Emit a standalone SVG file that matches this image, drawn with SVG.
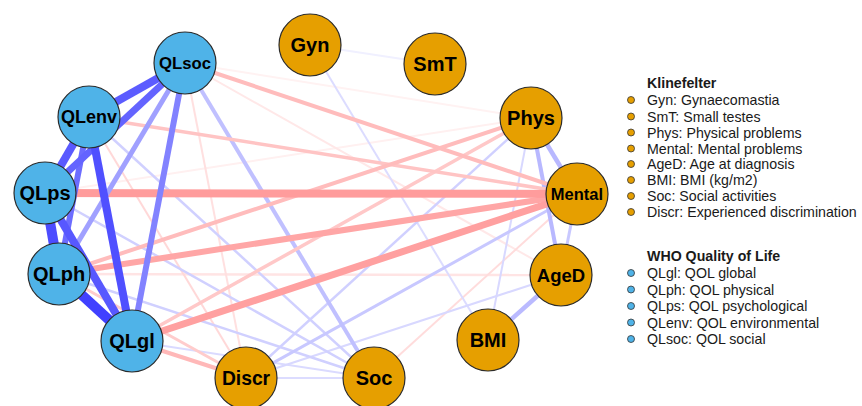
<svg xmlns="http://www.w3.org/2000/svg" width="862" height="406" viewBox="0 0 862 406">
<defs>
<style>
.e{fill:none;stroke-linecap:butt}
.n circle{stroke:#2b2b2b;stroke-width:1.2}
.o{fill:#E69F00}
.b{fill:#4FB3E8}
.n text{font-family:"Liberation Sans",Arial,sans-serif;font-weight:bold;text-anchor:middle;dominant-baseline:central;fill:#000}
.lg text{font-family:"Liberation Sans",Arial,sans-serif;font-size:14.2px;fill:#1a1a1a}
.lg .t{font-weight:bold}
.lg circle{stroke:#333;stroke-width:0.8}
</style>
</defs>
<rect width="862" height="406" fill="#fff"/>
<g id="connectors" class="e">
<line x1="310" y1="45" x2="435" y2="64" stroke="#f0f0ff" stroke-width="2"/>
<line x1="185" y1="63" x2="531" y2="118" stroke="#fff2f2" stroke-width="2"/>
<line x1="45" y1="193" x2="531" y2="118" stroke="#fff0f0" stroke-width="2"/>
<line x1="185" y1="63" x2="561" y2="275" stroke="#ffe8e8" stroke-width="2"/>
<line x1="59" y1="274" x2="561" y2="275" stroke="#ffe4e4" stroke-width="2.5"/>
<line x1="374" y1="378" x2="577" y2="194" stroke="#ffdcdc" stroke-width="2"/>
<line x1="185" y1="63" x2="246" y2="378" stroke="#ffe0e0" stroke-width="2"/>
<line x1="89" y1="117" x2="246" y2="378" stroke="#ffd8d8" stroke-width="2"/>
<line x1="310" y1="45" x2="488" y2="340" stroke="#dcdcff" stroke-width="2"/>
<line x1="132" y1="341" x2="374" y2="378" stroke="#dadaff" stroke-width="2"/>
<line x1="246" y1="378" x2="561" y2="275" stroke="#d8d8ff" stroke-width="2"/>
<line x1="531" y1="118" x2="488" y2="340" stroke="#d8d8ff" stroke-width="2"/>
<line x1="246" y1="378" x2="374" y2="378" stroke="#dcdcff" stroke-width="2"/>
<line x1="89" y1="117" x2="374" y2="378" stroke="#d0d0ff" stroke-width="2.5"/>
<line x1="45" y1="193" x2="374" y2="378" stroke="#d0d0ff" stroke-width="2.5"/>
<line x1="59" y1="274" x2="374" y2="378" stroke="#d0d0ff" stroke-width="2.5"/>
<line x1="531" y1="118" x2="246" y2="378" stroke="#d0d0ff" stroke-width="2.5"/>
<line x1="577" y1="194" x2="246" y2="378" stroke="#c8c8ff" stroke-width="3"/>
<line x1="577" y1="194" x2="561" y2="275" stroke="#c8c8ff" stroke-width="3"/>
<line x1="185" y1="63" x2="374" y2="378" stroke="#c0c0ff" stroke-width="4"/>
<line x1="531" y1="118" x2="577" y2="194" stroke="#b8b8ff" stroke-width="4.5"/>
<line x1="531" y1="118" x2="561" y2="275" stroke="#b8b8ff" stroke-width="4"/>
<line x1="561" y1="275" x2="488" y2="340" stroke="#babaff" stroke-width="4.5"/>
<line x1="59" y1="274" x2="246" y2="378" stroke="#ffcccc" stroke-width="3"/>
<line x1="132" y1="341" x2="531" y2="118" stroke="#ffc8c8" stroke-width="3.5"/>
<line x1="89" y1="117" x2="577" y2="194" stroke="#ffc4c4" stroke-width="3.5"/>
<line x1="185" y1="63" x2="577" y2="194" stroke="#ffbcbc" stroke-width="4"/>
<line x1="59" y1="274" x2="531" y2="118" stroke="#ffbcbc" stroke-width="4"/>
<line x1="132" y1="341" x2="246" y2="378" stroke="#ffb8b8" stroke-width="4"/>
<line x1="59" y1="274" x2="577" y2="194" stroke="#ffa6a6" stroke-width="6"/>
<line x1="132" y1="341" x2="577" y2="194" stroke="#ffa0a0" stroke-width="7"/>
<line x1="45" y1="193" x2="577" y2="194" stroke="#ff9c9c" stroke-width="8"/>
<line x1="185" y1="63" x2="59" y2="274" stroke="#a0a0ff" stroke-width="5"/>
<line x1="185" y1="63" x2="132" y2="341" stroke="#8282ff" stroke-width="6"/>
<line x1="89" y1="117" x2="59" y2="274" stroke="#6c6cff" stroke-width="6"/>
<line x1="185" y1="63" x2="45" y2="193" stroke="#6464ff" stroke-width="7"/>
<line x1="185" y1="63" x2="89" y2="117" stroke="#5c5cff" stroke-width="8"/>
<line x1="89" y1="117" x2="45" y2="193" stroke="#5a5aff" stroke-width="8"/>
<line x1="45" y1="193" x2="132" y2="341" stroke="#5858ff" stroke-width="8"/>
<line x1="89" y1="117" x2="132" y2="341" stroke="#5050ff" stroke-width="8"/>
<line x1="45" y1="193" x2="59" y2="274" stroke="#4c4cff" stroke-width="10"/>
<line x1="59" y1="274" x2="132" y2="341" stroke="#4040ff" stroke-width="10"/>
</g>
<g id="Gyn" class="n"><circle class="o" cx="310" cy="45" r="31"/><text x="310" y="45" font-size="20">Gyn</text></g>
<g id="SmT" class="n"><circle class="o" cx="435" cy="64" r="31"/><text x="435" y="64" font-size="20">SmT</text></g>
<g id="Phys" class="n"><circle class="o" cx="531" cy="118" r="31"/><text x="531" y="118" font-size="20">Phys</text></g>
<g id="Mental" class="n"><circle class="o" cx="577" cy="194" r="31"/><text x="577" y="194" font-size="16.5">Mental</text></g>
<g id="AgeD" class="n"><circle class="o" cx="561" cy="275" r="31"/><text x="561" y="275" font-size="18.5">AgeD</text></g>
<g id="BMI" class="n"><circle class="o" cx="488" cy="340" r="31"/><text x="488" y="340" font-size="20">BMI</text></g>
<g id="Soc" class="n"><circle class="o" cx="374" cy="378" r="31"/><text x="374" y="378" font-size="20">Soc</text></g>
<g id="Discr" class="n"><circle class="o" cx="246" cy="378" r="31"/><text x="246" y="378" font-size="19.3">Discr</text></g>
<g id="QLgl" class="n"><circle class="b" cx="132" cy="341" r="31"/><text x="132" y="341" font-size="20">QLgl</text></g>
<g id="QLph" class="n"><circle class="b" cx="59" cy="274" r="31"/><text x="59" y="274" font-size="20">QLph</text></g>
<g id="QLps" class="n"><circle class="b" cx="45" cy="193" r="31"/><text x="45" y="193" font-size="20">QLps</text></g>
<g id="QLenv" class="n"><circle class="b" cx="89" cy="117" r="31"/><text x="89" y="117" font-size="18">QLenv</text></g>
<g id="QLsoc" class="n"><circle class="b" cx="185" cy="63" r="31"/><text x="185" y="63" font-size="16.7">QLsoc</text></g>
<g id="legend" class="lg">
<text class="t" x="647" y="88">Klinefelter</text>
<circle class="o" cx="631" cy="100" r="3.5"/><text x="647" y="105">Gyn: Gynaecomastia</text>
<circle class="o" cx="631" cy="116.5" r="3.5"/><text x="647" y="121.5">SmT: Small testes</text>
<circle class="o" cx="631" cy="132.5" r="3.5"/><text x="647" y="137.5">Phys: Physical problems</text>
<circle class="o" cx="631" cy="148.5" r="3.5"/><text x="647" y="153.5">Mental: Mental problems</text>
<circle class="o" cx="631" cy="164" r="3.5"/><text x="647" y="169">AgeD: Age at diagnosis</text>
<circle class="o" cx="631" cy="180" r="3.5"/><text x="647" y="185">BMI: BMI (kg/m2)</text>
<circle class="o" cx="631" cy="196" r="3.5"/><text x="647" y="201">Soc: Social activities</text>
<circle class="o" cx="631" cy="212" r="3.5"/><text x="647" y="217">Discr: Experienced discrimination</text>
<text class="t" x="647" y="261">WHO Quality of Life</text>
<circle class="b" cx="631" cy="273" r="3.5"/><text x="647" y="278">QLgl: QOL global</text>
<circle class="b" cx="631" cy="289.5" r="3.5"/><text x="647" y="294.5">QLph: QOL physical</text>
<circle class="b" cx="631" cy="306" r="3.5"/><text x="647" y="311">QLps: QOL psychological</text>
<circle class="b" cx="631" cy="322.5" r="3.5"/><text x="647" y="327.5">QLenv: QOL environmental</text>
<circle class="b" cx="631" cy="339" r="3.5"/><text x="647" y="344">QLsoc: QOL social</text>
</g>
</svg>
